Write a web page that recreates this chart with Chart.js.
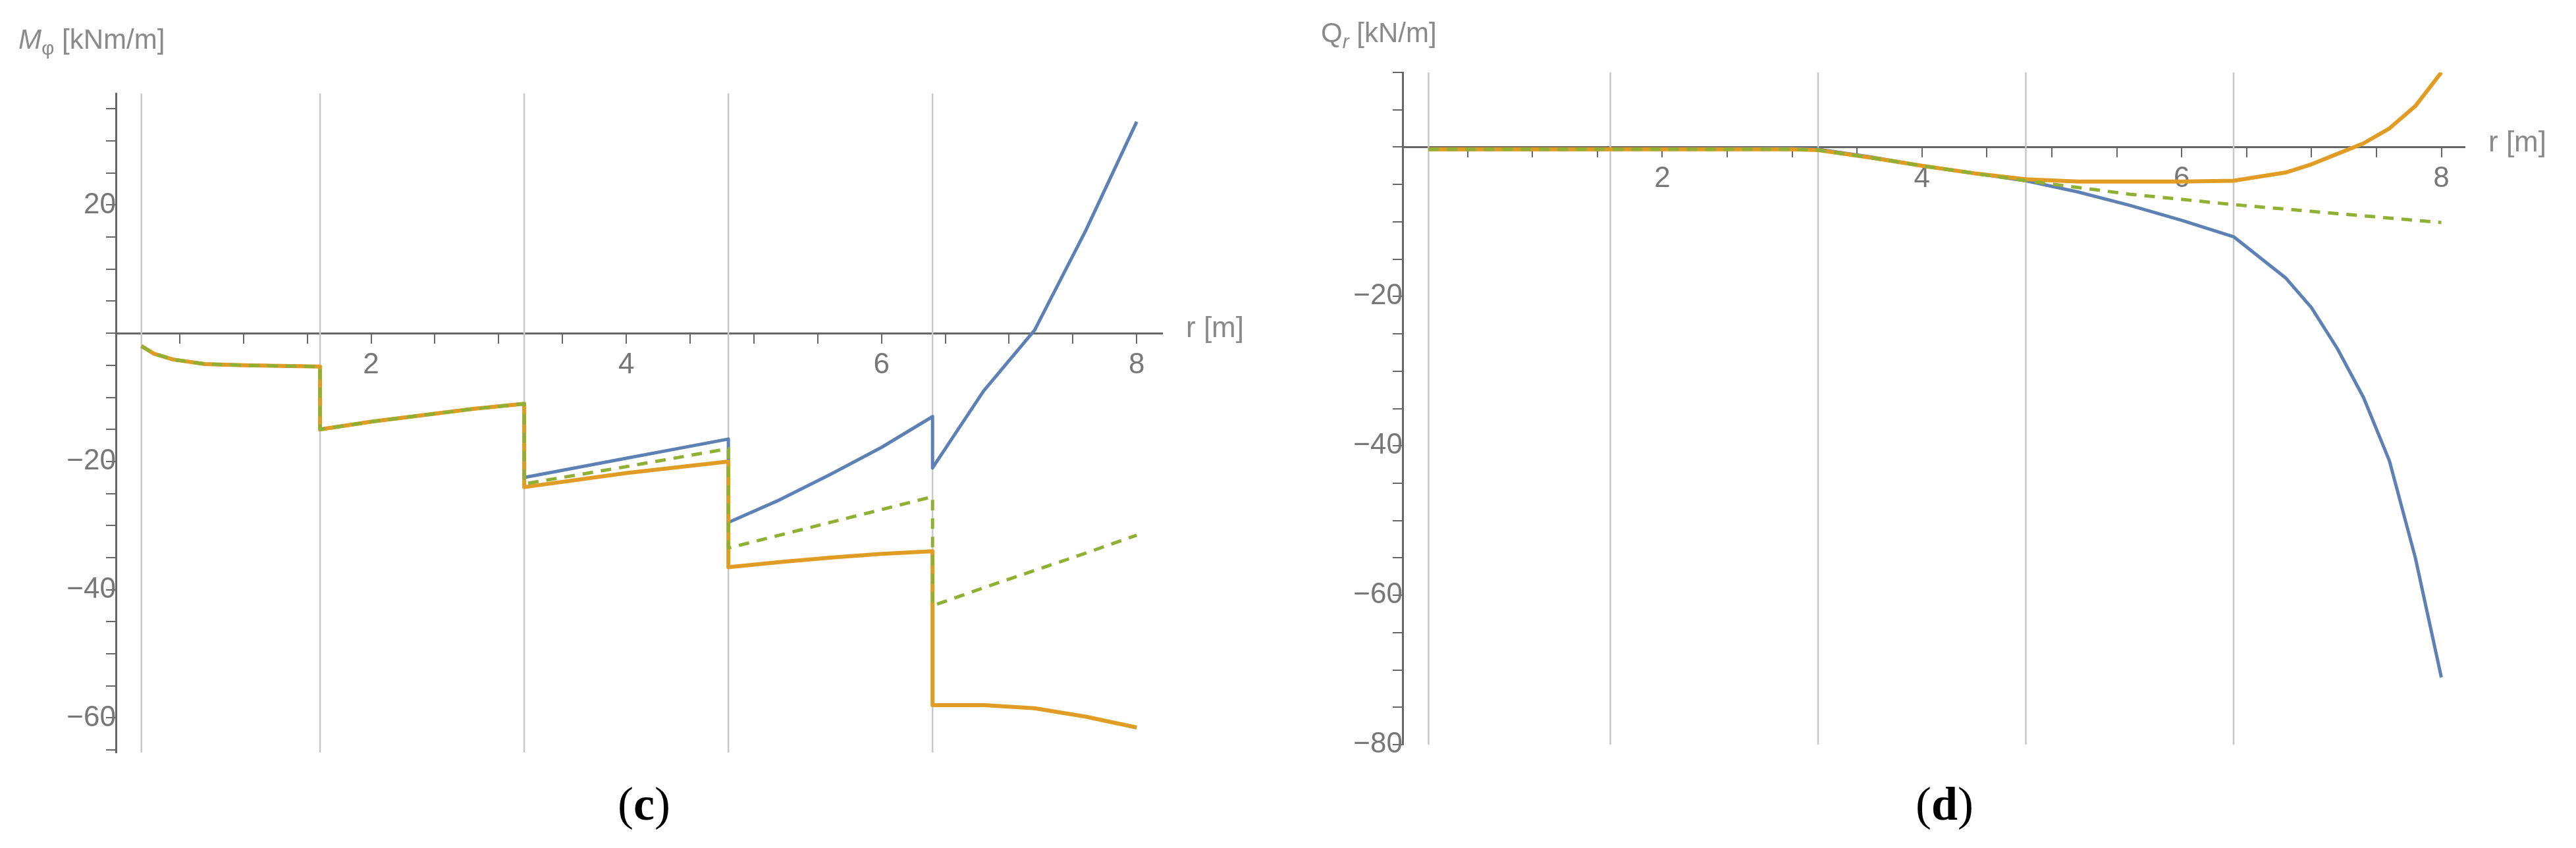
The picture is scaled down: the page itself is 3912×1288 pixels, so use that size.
<!DOCTYPE html>
<html>
<head>
<meta charset="utf-8">
<script src="https://cdn.jsdelivr.net/npm/chart.js@4"></script>
<style>
  body { margin: 0; background: #fff; width: 3912px; height: 1288px; position: relative; overflow: hidden; font-family: 'Liberation Sans', Arial, sans-serif; }
  .panel { position: absolute; top: 0; width: 1956px; height: 1288px; }
  .ttl { position: absolute; color: #8a8a8a; font-size: 42px; }
  .cap { position: absolute; top: 1180px; font-family: 'Liberation Serif', serif; font-size: 72px; width: 200px; text-align: center; }
</style>
</head>
<body>
<div class="panel" style="left:0"><canvas id="momentChart"></canvas></div>
<div class="panel" style="left:1956px"><canvas id="shearChart"></canvas></div>
<div class="ttl" style="left:28px;top:36px"><i>M</i><sub style="font-size:30px">φ</sub> [kNm/m]</div>
<div class="ttl" style="left:2006px;top:26px">Q<sub style="font-size:30px"><i>r</i></sub> [kN/m]</div>
<div class="cap" style="left:878px">(<b>c</b>)</div>
<div class="cap" style="left:2853px">(<b>d</b>)</div>
<script>
const gridR = [0.2, 1.6, 3.2, 4.8, 6.4];
const xLabels = [2, 4, 6, 8];

// panel (c): M_phi
const rM = [0.2, 0.3, 0.45, 0.7, 1.0, 1.6, 1.6, 2.0, 2.4, 2.8, 3.2, 3.2, 4.0, 4.8, 4.8, 5.2, 5.6, 6.0, 6.4, 6.4, 6.8, 7.2, 7.6, 8.0];
const mBlue   = [-2, -3.2, -4.1, -4.8, -5.0, -5.2, -15, -13.8, -12.8, -11.8, -11, -22.5, -19.5, -16.5, -29.5, -26, -22, -17.8, -13, -21, -9, 0.5, 16, 33];
const mOrange = [-2, -3.2, -4.1, -4.8, -5.0, -5.2, -15, -13.8, -12.8, -11.8, -11, -24, -21.8, -20, -36.5, -35.7, -35, -34.4, -34, -58, -58, -58.5, -59.8, -61.5];
const mGreen  = [-2, -3.2, -4.1, -4.8, -5.0, -5.2, -15, -13.8, -12.8, -11.8, -11, -23.5, -20.8, -18, -33.5, -31.5, -29.5, -27.5, -25.5, -42.5, -39.7, -37, -34.3, -31.5];
const mTicks = [20, -20, -40, -60];

// panel (d): Q_r
const rQ = [0.2, 1.6, 3.0, 3.2, 3.6, 4.0, 4.4, 4.8, 5.2, 5.6, 6.0, 6.4, 6.8, 7.0, 7.2, 7.4, 7.6, 7.8, 8.0];
const qBlue   = [-0.3, -0.3, -0.2, -0.3, -1.3, -2.5, -3.5, -4.5, -6, -7.8, -9.8, -12, -17.5, -21.5, -27, -33.5, -42, -55, -71];
const qOrange = [-0.3, -0.3, -0.3, -0.4, -1.4, -2.5, -3.5, -4.3, -4.6, -4.6, -4.6, -4.5, -3.4, -2.3, -0.9, 0.5, 2.5, 5.5, 10];
const qGreen  = [-0.3, -0.3, -0.3, -0.4, -1.4, -2.5, -3.5, -4.5, -5.4, -6.3, -7, -7.7, -8.3, -8.6, -8.9, -9.2, -9.5, -9.8, -10.1];
const qTicks = [-20, -40, -60, -80];

const BLUE = '#5e81b5', ORANGE = '#e19c24', GREEN = '#8fb032';

const pts = (xs, ys) => xs.map((x, i) => ({ x: x, y: ys[i] }));
const fmt = v => (v < 0 ? '\u2212' : '') + Math.abs(v);

const extras = {
  id: 'extras',
  beforeDatasetsDraw(chart) {
    const { ctx, chartArea, scales } = chart;
    ctx.save();
    ctx.strokeStyle = '#c8c8c8';
    ctx.lineWidth = 2.5;
    gridR.forEach(r => {
      const px = scales.x.getPixelForValue(r);
      ctx.beginPath();
      ctx.moveTo(px, chartArea.top);
      ctx.lineTo(px, chartArea.bottom);
      ctx.stroke();
    });
    ctx.restore();
  },
  afterDraw(chart) {
    const { ctx, chartArea, scales } = chart;
    ctx.save();
    ctx.fillStyle = '#8a8a8a';
    ctx.font = '44px "Liberation Sans", Arial, sans-serif';
    ctx.textBaseline = 'middle';
    ctx.fillText('r [m]', chartArea.right + 36, scales.y.getPixelForValue(0) - 6);
    ctx.restore();
  }
};

function makeChart(id, xs, blue, orange, green, ticks, yMin, yMax, xMax, pad) {
  new Chart(document.getElementById(id), {
    type: 'line',
    data: {
      datasets: [
        { data: pts(xs, green), borderColor: GREEN, borderWidth: 5, borderDash: [16, 12], order: 0 },
        { data: pts(xs, orange), borderColor: ORANGE, borderWidth: 6, order: 1 },
        { data: pts(xs, blue), borderColor: BLUE, borderWidth: 5, order: 2 }
      ]
    },
    options: {
      responsive: false, animation: false,
      layout: { padding: pad },
      elements: { point: { radius: 0 }, line: { tension: 0, borderJoinStyle: 'round' } },
      plugins: { legend: { display: false }, tooltip: { enabled: false } },
      scales: {
        x: {
          type: 'linear', min: 0, max: xMax, position: { y: 0 },
          afterBuildTicks: s => { s.ticks = []; for (let i = 0; i <= 16; i++) s.ticks.push({ value: i / 2 }); },
          grid: { drawOnChartArea: false, color: '#666', tickLength: 14, lineWidth: 2 },
          border: { color: '#666', width: 3 },
          ticks: { autoSkip: false, maxRotation: 0, color: '#777', padding: 8,
                   font: { size: 44, family: 'Liberation Sans' },
                   callback: v => xLabels.includes(v) ? String(v) : '' }
        },
        y: {
          min: yMin, max: yMax, position: { x: 0 },
          afterBuildTicks: s => { s.ticks = []; for (let v = Math.ceil(yMin / 5) * 5; v <= yMax; v += 5) s.ticks.push({ value: v }); },
          grid: { drawOnChartArea: false, color: '#666', tickLength: 14, lineWidth: 2 },
          border: { color: '#666', width: 3 },
          ticks: { autoSkip: false, color: '#777', padding: 8,
                   font: { size: 44, family: 'Liberation Sans' },
                   callback: v => ticks.includes(v) ? fmt(v) : '' }
        }
      }
    },
    plugins: [extras]
  });
}

['momentChart', 'shearChart'].forEach(id => {
  document.getElementById(id).width = 1956;
  document.getElementById(id).height = 1288;
});

makeChart('momentChart', rM, mBlue, mOrange, mGreen, mTicks, -65.4, 37.4, 8.2, { left: 176, right: 191, top: 142, bottom: 145 });
makeChart('shearChart', rQ, qBlue, qOrange, qGreen, qTicks, -80, 10, 8.18, { left: 174, right: 169, top: 110, bottom: 157 });
</script>
</body>
</html>
